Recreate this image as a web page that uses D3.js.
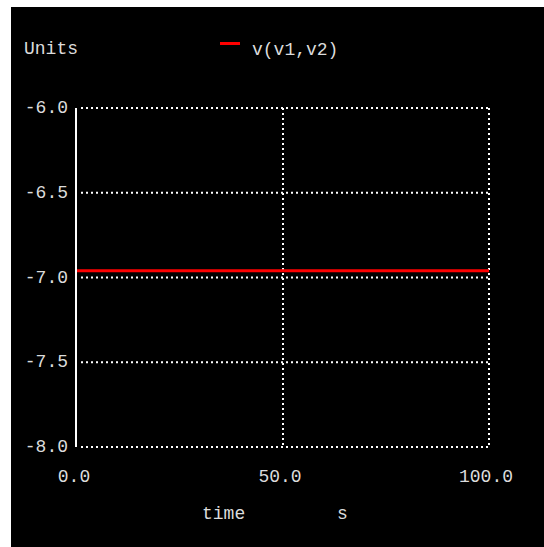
<!DOCTYPE html>
<html>
<head>
<meta charset="utf-8">
<script src="https://cdn.jsdelivr.net/npm/d3@7"></script>
<style>
  html, body { margin: 0; padding: 0; background: #fff; }
  svg { display: block; }
  text { font-family: "Liberation Mono", "DejaVu Sans Mono", monospace; font-size: 18px; fill: #dcdcdc; }
</style>
</head>
<body>
<script>
// Data
var seriesName = 'v(v1,v2)',
    seriesValue = -6.96,          // constant trace value
    xTicks = [0, 50, 100],
    yTicks = [-6.0, -6.5, -7.0, -7.5, -8.0],
    xDomain = [0, 100],
    yDomain = [-8, -6];

var W = 544, H = 547;
var plot = {left: 77, right: 489, top: 108, bottom: 447};

var svg = d3.select('body').append('svg')
    .attr('width', W)
    .attr('height', H);

// Black panel
svg.append('rect')
    .attr('x', 11).attr('y', 7)
    .attr('width', W - 11).attr('height', H - 7)
    .attr('fill', '#000');

var x = d3.scaleLinear().domain(xDomain).range([plot.left, plot.right]);
var y = d3.scaleLinear().domain(yDomain).range([plot.bottom, plot.top]);

// Dotted horizontal grid
svg.selectAll('.hgrid')
    .data(yTicks)
    .enter().append('line')
    .attr('x1', x(0) + 4).attr('x2', x(100))
    .attr('y1', function(d) { return y(d); })
    .attr('y2', function(d) { return y(d); })
    .attr('stroke', '#fff')
    .attr('stroke-width', 2)
    .attr('stroke-dasharray', '2,3');

// Dotted vertical grid (not at 0)
svg.selectAll('.vgrid')
    .data(xTicks.filter(function(d) { return d !== 0; }))
    .enter().append('line')
    .attr('x1', function(d) { return x(d); })
    .attr('x2', function(d) { return x(d); })
    .attr('y1', y(-6)).attr('y2', y(-8))
    .attr('stroke', '#fff')
    .attr('stroke-width', 2)
    .attr('stroke-dasharray', '2,3');

// Solid y axis line
svg.append('line')
    .attr('x1', x(0) - 1).attr('x2', x(0) - 1)
    .attr('y1', y(-6)).attr('y2', y(-8))
    .attr('stroke', '#fff')
    .attr('stroke-width', 2);

// Y tick labels
svg.selectAll('.ylab')
    .data(yTicks)
    .enter().append('text')
    .attr('x', 68)
    .attr('y', function(d) { return y(d) + 5; })
    .attr('text-anchor', 'end')
    .text(function(d) { return d3.format('.1f')(d).replace('−', '-'); });

// X tick labels
svg.selectAll('.xlab')
    .data(xTicks)
    .enter().append('text')
    .attr('x', function(d) { return x(d) - 3; })
    .attr('y', 482)
    .attr('text-anchor', 'middle')
    .text(function(d) { return d3.format('.1f')(d); });

// Trace
svg.append('line')
    .attr('x1', x(0)).attr('x2', x(100))
    .attr('y1', y(seriesValue)).attr('y2', y(seriesValue))
    .attr('stroke', '#ff0000')
    .attr('stroke-width', 3);

// Labels
svg.append('text').attr('x', 24).attr('y', 54).text('Units');
svg.append('text').attr('x', 202).attr('y', 519).text('time');
svg.append('text').attr('x', 337).attr('y', 519).text('s');

// Legend
svg.append('line')
    .attr('x1', 220).attr('x2', 240)
    .attr('y1', 43.5).attr('y2', 43.5)
    .attr('stroke', '#ff0000')
    .attr('stroke-width', 3);
svg.append('text').attr('x', 252).attr('y', 55).text(seriesName);
</script>
</body>
</html>
